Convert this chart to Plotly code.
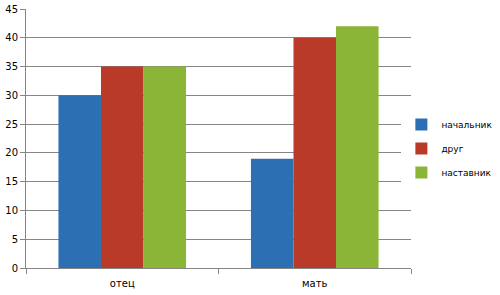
import plotly.graph_objects as go

categories = ["отец", "мать"]
series_names = ["начальник", "друг", "наставник"]
values_boss = [30, 19]
values_friend = [35, 40]
values_mentor = [35, 42]
colors = ["#2C6FB2", "#B93A28", "#8AB536"]

fig = go.Figure()
for name, vals, col in zip(series_names, [values_boss, values_friend, values_mentor], colors):
    fig.add_trace(go.Bar(x=categories, y=vals, name=name, legendgroup=name,
                         marker=dict(color=col, line=dict(width=0))))

fig.update_layout(
    width=500, height=295,
    margin=dict(l=26, r=89, t=9, b=27, autoexpand=False),
    paper_bgcolor="white", plot_bgcolor="white",
    barmode="group", bargap=0.337, bargroupgap=0,
    font=dict(family="DejaVu Sans", size=10, color="black"),
    legend=dict(x=0.975, y=0.61, xanchor="left", yanchor="top",
                font=dict(size=9), itemwidth=30, tracegroupgap=5),
    xaxis=dict(showline=True, linecolor="#868686", linewidth=1, ticks="outside",
               tickson="boundaries", ticklen=5, tickcolor="#868686",
               showgrid=False, ticklabelstandoff=6),
    yaxis=dict(range=[0, 45], dtick=5, showline=True, linecolor="#868686",
               ticks="outside", ticklen=5, tickcolor="#868686",
               showgrid=True, gridcolor="#868686", gridwidth=1, zeroline=False),
)
fig.write_html("out.html")
